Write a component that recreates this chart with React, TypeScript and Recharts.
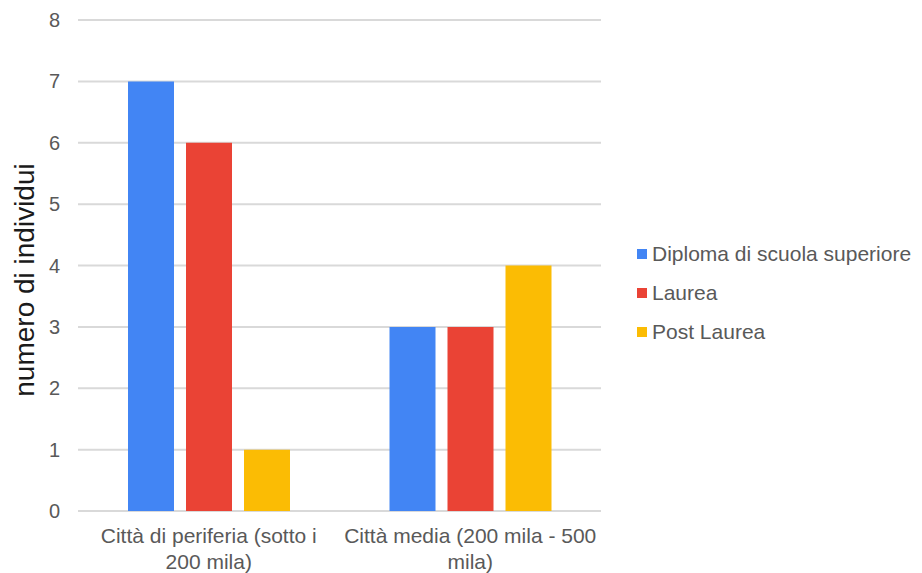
import React from 'react';
import { BarChart, Bar, XAxis, YAxis, CartesianGrid, Legend, Text } from 'recharts';

// Città per titolo di studio
const categories = ['Città di periferia (sotto i 200 mila)', 'Città media (200 mila - 500 mila)'];
const tickLines = [
  ['Città di periferia (sotto i', '200 mila)'],
  ['Città media (200 mila - 500', 'mila)'],
];
const diploma = [7, 3];
const laurea = [6, 3];
const postLaurea = [1, 4];
const yTicks = [0, 1, 2, 3, 4, 5, 6, 7, 8];

const series = [
  { key: 'diploma', name: 'Diploma di scuola superiore', color: '#4285F4' },
  { key: 'laurea', name: 'Laurea', color: '#EA4335' },
  { key: 'postLaurea', name: 'Post Laurea', color: '#FBBC04' },
];

const data = categories.map((name, i) => ({
  name,
  diploma: diploma[i],
  laurea: laurea[i],
  postLaurea: postLaurea[i],
}));

const FONT = '"Liberation Sans", Arial, Helvetica, sans-serif';
const TEXT = '#595959';

// two-line category labels under each group
const CategoryTick = (props: any) => {
  const { x, y, index } = props;
  const lines = tickLines[index] || [];
  return (
    <g>
      {lines.map((line, i) => (
        <Text
          key={i}
          x={x}
          y={y + 17 + i * 26}
          textAnchor="middle"
          verticalAnchor="middle"
          fontSize={21}
          fontFamily={FONT}
          fill={TEXT}
        >
          {line}
        </Text>
      ))}
    </g>
  );
};

const LegendBox = () => (
  <div style={{ fontFamily: FONT, fontSize: 21, color: TEXT }}>
    {series.map((s) => (
      <div key={s.key} style={{ display: 'flex', alignItems: 'center', height: 39 }}>
        <span style={{ width: 10, height: 10, background: s.color, marginRight: 5, display: 'inline-block' }} />
        <span>{s.name}</span>
      </div>
    ))}
  </div>
);

const YTitle = () => (
  <text
    x={24}
    y={280}
    transform="rotate(-90 24 280)"
    textAnchor="middle"
    dominantBaseline="central"
    fontSize={28}
    fontFamily={FONT}
    fill="#1a1a1a"
  >
    numero di individui
  </text>
);

export default function App() {
  return (
    <div style={{ position: 'absolute', left: 0, top: 0, width: 922, height: 573, background: '#fff' }}>
      <BarChart
        width={922}
        height={573}
        data={data}
        margin={{ top: 20, right: 321, bottom: 0, left: 18 }}
        barCategoryGap={50}
        barGap={12}
      >
        <CartesianGrid vertical={false} stroke="#d9d9d9" strokeWidth={2} />
        <XAxis
          dataKey="name"
          axisLine={false}
          tickLine={false}
          height={62}
          interval={0}
          tick={<CategoryTick />}
        />
        <YAxis
          width={60}
          domain={[0, 8]}
          ticks={yTicks}
          axisLine={false}
          tickLine={false}
          tickSize={0}
          tickMargin={18}
          tick={{ fontSize: 20, fill: TEXT, fontFamily: FONT }}
          label={<YTitle />}
        />
        <Legend
          layout="vertical"
          align="center"
          verticalAlign="middle"
          content={<LegendBox />}
          wrapperStyle={{ left: 637, top: 234, width: 285 }}
        />
        {series.map((s) => (
          <Bar key={s.key} dataKey={s.key} name={s.name} fill={s.color} isAnimationActive={false} />
        ))}
      </BarChart>
    </div>
  );
}
